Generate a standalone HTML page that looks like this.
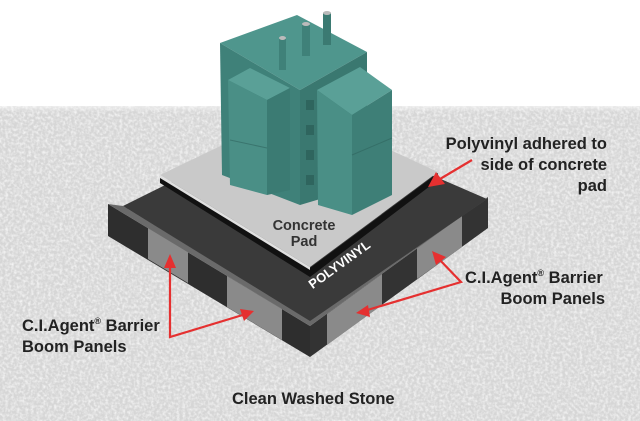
<!DOCTYPE html>
<html><head><meta charset="utf-8"><style>
html,body{margin:0;padding:0;background:#fff;}
svg{display:block;}
text{font-family:"Liberation Sans",Arial,sans-serif;font-weight:bold;}
</style></head><body>
<svg width="640" height="421" viewBox="0 0 640 421" xmlns="http://www.w3.org/2000/svg">
<defs>
<filter id="grav" x="0" y="0" width="100%" height="100%">
<feTurbulence type="fractalNoise" baseFrequency="0.35" numOctaves="2" seed="3"/>
<feColorMatrix type="matrix" values="0 0 0 0 0.97  0 0 0 0 0.97  0 0 0 0 0.97  -1.6 0 0 0 1.0"/>
<feComposite in2="SourceGraphic" operator="in"/>
</filter>
<linearGradient id="fade" x1="0" y1="0" x2="0" y2="1">
<stop offset="0" stop-color="#fff" stop-opacity="1"/><stop offset="1" stop-color="#fff" stop-opacity="0"/>
</linearGradient>
</defs>
<rect width="640" height="421" fill="#fff"/>
<rect x="0" y="106" width="640" height="315" fill="#d6d6d6"/>
<rect x="0" y="106" width="640" height="315" fill="#000" filter="url(#grav)"/>
<rect x="0" y="100" width="640" height="12" fill="url(#fade)"/>

<polygon points="108,204 310,326 310,357 108,236" fill="#2e2e2e"/>
<polygon points="310,326 488,197 488,228 310,357" fill="#333"/>
<polygon points="148,228 188,252 188,283 148,259" fill="#8a8a8a"/>
<polygon points="227,276 282,309 282,340 227,307" fill="#8a8a8a"/>
<polygon points="327,314 382,274 382,305 327,345" fill="#8a8a8a"/>
<polygon points="417,248 462,216 462,247 417,279" fill="#8a8a8a"/>
<polygon points="108,204 123,206 310,320 487,199 488,197 310,326" fill="#6a6a6a"/>
<polygon points="123,206 300,118 487,199 310,321" fill="#3a3a3a"/>
<polygon points="160,176 310,268 438,173 438,180 310,277 160,183" fill="#111"/>
<polygon points="160,175 300,108 438,172 310,267" fill="#c9c9c9"/>
<polygon points="160,175 310,267 310,270 160,178" fill="#e0e0e0"/>

<polygon points="220,43 297,15 367,52 300,90" fill="#4f968d"/>
<polygon points="220,43 300,90 300,205 222,175" fill="#3f8179"/>
<polygon points="300,90 367,52 367,185 300,205" fill="#3a7870"/>
<rect x="306" y="100" width="8" height="10" fill="#2f655e"/>
<rect x="306" y="125" width="8" height="10" fill="#2f655e"/>
<rect x="306" y="150" width="8" height="10" fill="#2f655e"/>
<rect x="306" y="175" width="8" height="10" fill="#2f655e"/>
<polygon points="228,80 250,68 290,88 267,100" fill="#5aa097"/>
<polygon points="228,80 267,100 267,195 230,185" fill="#4a8f86"/>
<polygon points="267,100 290,88 290,190 267,195" fill="#3b7b73"/>
<line x1="230" y1="140" x2="267" y2="148" stroke="#3a756e" stroke-width="1"/>
<polygon points="317,90 360,67 392,90 352,115" fill="#5aa097"/>
<polygon points="317,90 352,115 352,215 318,205" fill="#4a8f86"/>
<polygon points="352,115 392,90 392,195 352,215" fill="#3e7f77"/>
<line x1="352" y1="155" x2="392" y2="138" stroke="#356f68" stroke-width="1"/>
<rect x="279" y="38" width="7" height="32" fill="#3f8179"/>
<ellipse cx="282.5" cy="38" rx="3.5" ry="2" fill="#bbb"/>
<rect x="302" y="24" width="8" height="32" fill="#3f8179"/>
<ellipse cx="306" cy="24" rx="4" ry="2" fill="#bbb"/>
<rect x="323" y="13" width="8" height="32" fill="#3b7a72"/>
<ellipse cx="327" cy="13" rx="4" ry="2" fill="#bbb"/>

<text x="304" y="230" font-size="14.5" fill="#333" text-anchor="middle">Concrete</text>
<text x="304" y="246" font-size="14.5" fill="#333" text-anchor="middle">Pad</text>
<text x="342" y="268" font-size="13" fill="#fff" transform="rotate(-36 342 268)" text-anchor="middle">POLYVINYL</text>

<g font-size="16.5" fill="#222" text-anchor="end">
<text x="607" y="149">Polyvinyl adhered to</text>
<text x="607" y="170">side of concrete</text>
<text x="607" y="191">pad</text>
</g>
<g font-size="16.5" fill="#222">
<text x="465" y="283">C.I.Agent<tspan font-size="9" dy="-7">®</tspan><tspan dy="7"> Barrier</tspan></text>
<text x="605" y="304" text-anchor="end">Boom Panels</text>
<text x="22" y="331">C.I.Agent<tspan font-size="9" dy="-7">®</tspan><tspan dy="7"> Barrier</tspan></text>
<text x="22" y="352">Boom Panels</text>
<text x="232" y="404">Clean Washed Stone</text>
</g>

<g stroke="#e53030" stroke-width="2.2" fill="none">
<polyline points="170,262 170,337 246,314"/>
<polyline points="438,258 461,282 364,311"/>
<line x1="472" y1="160" x2="440" y2="179"/>
</g>
<g fill="#e53030">
<polygon points="170,254 164,268 176,268"/>
<polygon points="254,311 240,309 244,321"/>
<polygon points="432,251 436,265 446,257"/>
<polygon points="356,313 368,305 370,317"/>
<polygon points="428,187 436,172 445,184"/>
</g>
</svg>
</body></html>
